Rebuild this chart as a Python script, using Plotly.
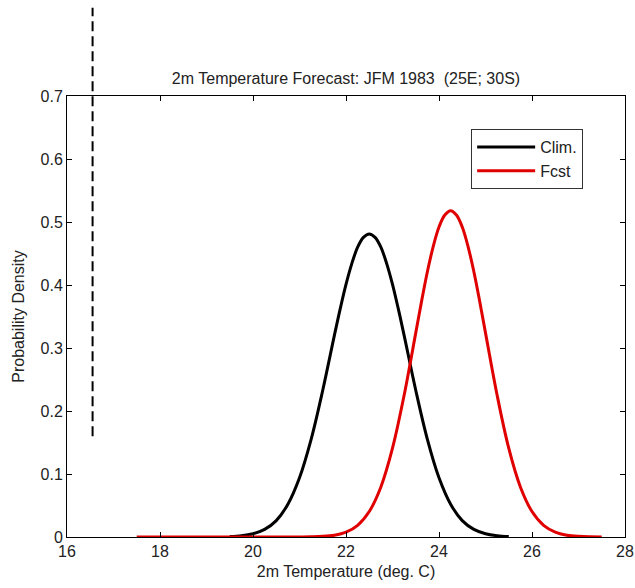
import plotly.graph_objects as go

# ------------------------------------ Data ------------------------------------

clim_temp = [19.5, 19.75, 20.0, 20.25, 20.5, 20.75, 21.0, 21.25, 21.5, 21.75, 21.875, 22.0, 22.125, 22.25,
             22.375, 22.5, 22.625, 22.75, 22.875, 23.0, 23.125, 23.25, 23.5, 23.75, 24.0, 24.25, 24.5,
             24.75, 25.0, 25.25, 25.5]
clim_density = [0.0007, 0.002, 0.0052, 0.012, 0.026, 0.052, 0.094, 0.155, 0.233, 0.320, 0.362, 0.401, 0.434, 0.460,
                0.4756, 0.481, 0.4756, 0.460, 0.434, 0.401, 0.362, 0.320, 0.233, 0.155, 0.094, 0.052, 0.026,
                0.012, 0.0052, 0.002, 0.0007]

fcst_temp = [17.5, 17.75, 18.0, 18.25, 18.5, 18.75, 19.0, 19.25, 19.5, 19.75, 20.0, 20.25, 20.5, 20.75,
             21.0, 21.25, 21.5, 21.75, 22.0, 22.25, 22.5, 22.75, 23.0, 23.25, 23.5, 23.625, 23.75, 23.875,
             24.0, 24.125, 24.25, 24.375, 24.5, 24.625, 24.75, 24.875, 25.0, 25.25, 25.5, 25.75, 26.0,
             26.25, 26.5, 26.75, 27.0, 27.25, 27.5]
fcst_density = [0, 0, 0, 0, 0, 0, 0, 0, 0, 0, 0, 0, 0, 0,
                0.0001, 0.0003, 0.0010, 0.0029, 0.0077, 0.0186, 0.0405, 0.0795, 0.141, 0.225, 0.324, 0.374, 0.421, 0.461,
                0.492, 0.511, 0.518, 0.511, 0.492, 0.461, 0.421, 0.374, 0.324, 0.225, 0.141, 0.0795, 0.0405,
                0.0186, 0.0077, 0.0029, 0.0010, 0.0003, 0.0001]

# observed / marker line (dashed), in data units
dash_temp = 16.55
dash_low = 0.16
dash_high = 0.84

x_range = [16, 28]
y_range = [0, 0.7]
x_ticks = [16, 18, 20, 22, 24, 26, 28]
y_ticks = [0, 0.1, 0.2, 0.3, 0.4, 0.5, 0.6, 0.7]

FONT = "Liberation Sans, Arial, sans-serif"
TEXT_COLOR = "#222"
W, H = 635, 588

# ------------------------------------ Figure ------------------------------------

fig = go.Figure()
fig.add_trace(go.Scatter(x=clim_temp, y=clim_density, name="Clim.", mode="lines",
                         line=dict(color="black", width=3, shape="spline", smoothing=1)))
fig.add_trace(go.Scatter(x=fcst_temp, y=fcst_density, name="Fcst", mode="lines",
                         line=dict(color="#e00000", width=3, shape="spline", smoothing=1)))

# dashed line reaches above the axes, so place it in paper units
fig.add_shape(type="line", xref="x", yref="paper",
              x0=dash_temp, x1=dash_temp,
              y0=dash_low / y_range[1], y1=dash_high / y_range[1],
              line=dict(color="black", width=2, dash="10px,5px"))

axis_common = dict(showgrid=False, zeroline=False, showline=True, linecolor="black", linewidth=1,
                   mirror="ticks", ticks="inside", ticklen=5, tickcolor="black", automargin=False,
                   tickfont=dict(family=FONT, size=16, color=TEXT_COLOR))

fig.update_xaxes(range=x_range, tickvals=x_ticks, **axis_common,
                 title=dict(text="2m Temperature (deg. C)", font=dict(family=FONT, size=16, color=TEXT_COLOR),
                            standoff=6))
fig.update_yaxes(range=y_range, tickvals=y_ticks, **axis_common,
                 title=dict(text="Probability Density", font=dict(family=FONT, size=16, color=TEXT_COLOR),
                            standoff=11))

fig.update_layout(
    width=W, height=H,
    margin=dict(l=67, r=10, t=96, b=51),
    plot_bgcolor="white", paper_bgcolor="white",
    title=dict(text="2m Temperature Forecast: JFM 1983  (25E; 30S)",
               x=346 / W, xanchor="center",
               y=1 - 78 / H, yanchor="middle",
               font=dict(family=FONT, size=16, color=TEXT_COLOR)),
    legend=dict(x=0.925, y=0.925, xanchor="right", yanchor="top", bgcolor="white",
                bordercolor="#333", borderwidth=1, font=dict(family=FONT, size=16, color=TEXT_COLOR),
                tracegroupgap=0, itemwidth=58),
    showlegend=True,
)

# drop the browser's default 8px body margin so the figure fills the window
fig.write_html("out.html", config={"displayModeBar": False},
               post_script="document.body.style.margin='0';")
